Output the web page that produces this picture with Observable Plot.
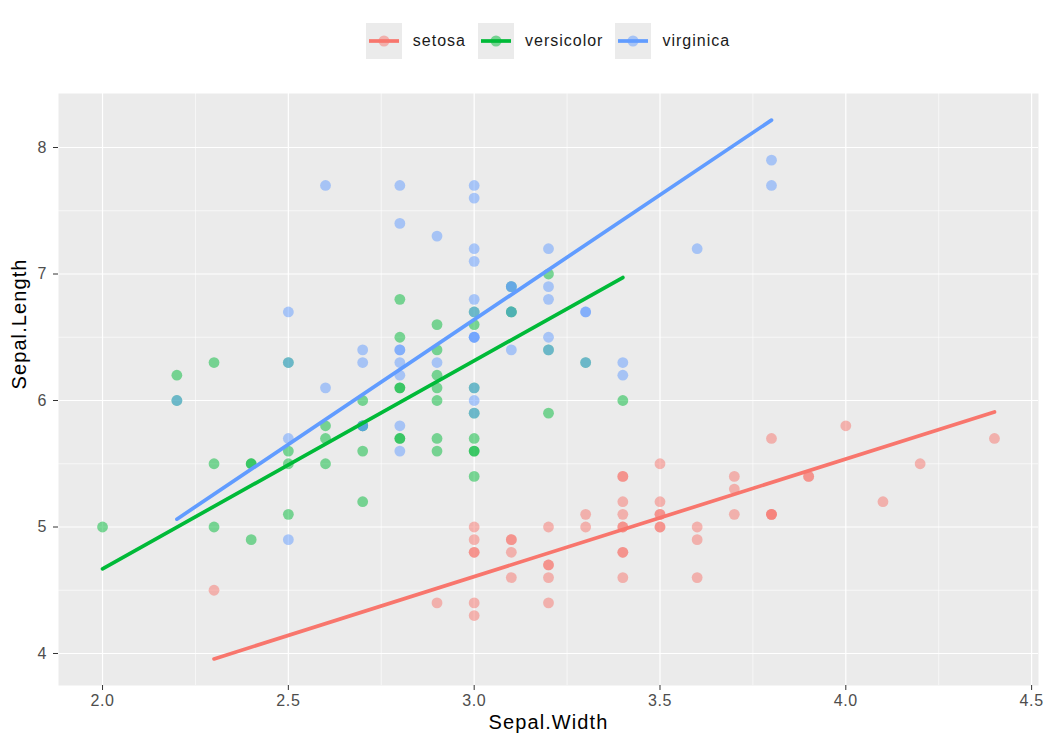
<!DOCTYPE html>
<html>
<head>
<meta charset="utf-8">
<script src="https://cdn.jsdelivr.net/npm/d3@7"></script>
<script src="https://cdn.jsdelivr.net/npm/@observablehq/plot@0.6"></script>
<style>
  html, body { margin: 0; padding: 0; background: #fff; }
  body { width: 1050px; height: 750px; font-family: "Liberation Sans", Arial, sans-serif; }
  #legend { height: 81px; display: flex; justify-content: center; align-items: center; padding-left: 46px; padding-top: 1px; box-sizing: border-box; }
  .item { display: flex; align-items: center; margin-right: 12px; }
  .item:last-child { margin-right: 0; }
  .item svg { display: block; }
  .item span { margin-left: 11px; font-size: 16px; letter-spacing: 1px; color: #1a1a1a; }
  #chart svg { display: block; }
  #chart svg g[aria-label="text"] text { letter-spacing: 1.1px; }
  #chart svg g[aria-label="x-axis tick label"] text { letter-spacing: 0.6px; }
</style>
</head>
<body>
<div id="legend"></div>
<div id="chart"></div>
<script>
const species = ["setosa", "versicolor", "virginica"];
const colors = ["#F8766D", "#00BA38", "#619CFF"];

const setosaWidth = [3.5,3.0,3.2,3.1,3.6,3.9,3.4,3.4,2.9,3.1,3.7,3.4,3.0,3.0,4.0,4.4,3.9,3.5,3.8,3.8,3.4,3.7,3.6,3.3,3.4,3.0,3.4,3.5,3.4,3.2,3.1,3.4,4.1,4.2,3.1,3.2,3.5,3.6,3.0,3.4,3.5,2.3,3.2,3.5,3.8,3.0,3.8,3.2,3.7,3.3];
const setosaLength = [5.1,4.9,4.7,4.6,5.0,5.4,4.6,5.0,4.4,4.9,5.4,4.8,4.8,4.3,5.8,5.7,5.4,5.1,5.7,5.1,5.4,5.1,4.6,5.1,4.8,5.0,5.0,5.2,5.2,4.7,4.8,5.4,5.2,5.5,4.9,5.0,5.5,4.9,4.4,5.1,5.0,4.5,4.4,5.0,5.1,4.8,5.1,4.6,5.3,5.0];
const versicolorWidth = [3.2,3.2,3.1,2.3,2.8,2.8,3.3,2.4,2.9,2.7,2.0,3.0,2.2,2.9,2.9,3.1,3.0,2.7,2.2,2.5,3.2,2.8,2.5,2.8,2.9,3.0,2.8,3.0,2.9,2.6,2.4,2.4,2.7,2.7,3.0,3.4,3.1,2.3,3.0,2.5,2.6,3.0,2.6,2.3,2.7,3.0,2.9,2.9,2.5,2.8];
const versicolorLength = [7.0,6.4,6.9,5.5,6.5,5.7,6.3,4.9,6.6,5.2,5.0,5.9,6.0,6.1,5.6,6.7,5.6,5.8,6.2,5.6,5.9,6.1,6.3,6.1,6.4,6.6,6.8,6.7,6.0,5.7,5.5,5.5,5.8,6.0,5.4,6.0,6.7,6.3,5.6,5.5,5.5,6.1,5.8,5.0,5.6,5.7,5.7,6.2,5.1,5.7];
const virginicaWidth = [3.3,2.7,3.0,2.9,3.0,3.0,2.5,2.9,2.5,3.6,3.2,2.7,3.0,2.5,2.8,3.2,3.0,3.8,2.6,2.2,3.2,2.8,2.8,2.7,3.3,3.2,2.8,3.0,2.8,3.0,2.8,3.8,2.8,2.8,2.6,3.0,3.4,3.1,3.0,3.1,3.1,3.1,2.7,3.2,3.3,3.0,2.5,3.0,3.4,3.0];
const virginicaLength = [6.3,5.8,7.1,6.3,6.5,7.6,4.9,7.3,6.7,7.2,6.5,6.4,6.8,5.7,5.8,6.4,6.5,7.7,7.7,6.0,6.9,5.6,7.7,6.3,6.7,7.2,6.2,6.1,6.4,7.2,7.4,7.9,6.4,6.3,6.1,7.7,6.3,6.4,6.0,6.9,6.7,6.9,5.8,6.8,6.7,6.7,6.3,6.5,6.2,5.9];

const xTicks = [2.0, 2.5, 3.0, 3.5, 4.0, 4.5];
const xMinor = [2.25, 2.75, 3.25, 3.75, 4.25];
const yTicks = [4, 5, 6, 7, 8];
const yMinor = [4.5, 5.5, 6.5, 7.5];

const widths = [setosaWidth, versicolorWidth, virginicaWidth];
const lengths = [setosaLength, versicolorLength, virginicaLength];
const data = species.flatMap((s, i) => widths[i].map((w, j) => ({species: s, width: w, length: lengths[i][j]})));

// Standardized major-axis fit per species, drawn across each group's x extent
const fits = species.flatMap((s, i) => {
  const xs = widths[i], ys = lengths[i];
  const mx = d3.mean(xs), my = d3.mean(ys);
  const sx = d3.deviation(xs), sy = d3.deviation(ys);
  const cov = d3.sum(xs, (x, k) => (x - mx) * (ys[k] - my));
  const slope = Math.sign(cov) * sy / sx;
  return d3.extent(xs).map(x => ({species: s, width: x, length: my + slope * (x - mx)}));
});

// Legend
const legend = document.getElementById("legend");
species.forEach((s, i) => {
  const item = document.createElement("div");
  item.className = "item";
  item.innerHTML = `<svg width="36" height="36"><rect width="36" height="36" fill="#EBEBEB"/>
    <line x1="3" x2="33" y1="18" y2="18" stroke="${colors[i]}" stroke-width="3.7"/>
    <circle cx="18" cy="18" r="5.5" fill="${colors[i]}" fill-opacity="0.5"/></svg><span>${s}</span>`;
  legend.appendChild(item);
});

const chart = Plot.plot({
  width: 1050,
  height: 669,
  marginTop: 12,
  marginBottom: 65,
  marginLeft: 58,
  marginRight: 12,
  style: {fontFamily: "'Liberation Sans', Arial, sans-serif", background: "white"},
  x: {domain: [1.8815, 4.5185], label: null},
  y: {domain: [3.747, 8.427], label: null},
  color: {domain: species, range: colors},
  marks: [
    Plot.frame({fill: "#EBEBEB", stroke: null}),
    Plot.ruleX(xMinor, {stroke: "white", strokeWidth: 0.6}),
    Plot.ruleY(yMinor, {stroke: "white", strokeWidth: 0.6}),
    Plot.ruleX(xTicks, {stroke: "white", strokeWidth: 1.2}),
    Plot.ruleY(yTicks, {stroke: "white", strokeWidth: 1.2}),
    Plot.dot(data, {x: "width", y: "length", fill: "species", r: 5.4, fillOpacity: 0.5, stroke: null}),
    Plot.line(fits, {x: "width", y: "length", stroke: "species", z: "species", strokeWidth: 3.7}),
    Plot.axisX({ticks: xTicks, tickFormat: d3.format(".1f"), tickSize: 5, tickPadding: 4, fontSize: 16, stroke: "#333", fill: "#4D4D4D", label: null}),
    Plot.axisY({ticks: yTicks, tickFormat: d3.format("d"), tickSize: 5, tickPadding: 7, fontSize: 16, stroke: "#333", fill: "#4D4D4D", label: null}),
    Plot.text(["Sepal.Width"], {frameAnchor: "bottom", dy: 43, fontSize: 20, fill: "black"}),
    Plot.text(["Sepal.Length"], {frameAnchor: "left", dx: -39, rotate: -90, fontSize: 20, fill: "black"})
  ]
});
document.getElementById("chart").appendChild(chart);
</script>
</body>
</html>
